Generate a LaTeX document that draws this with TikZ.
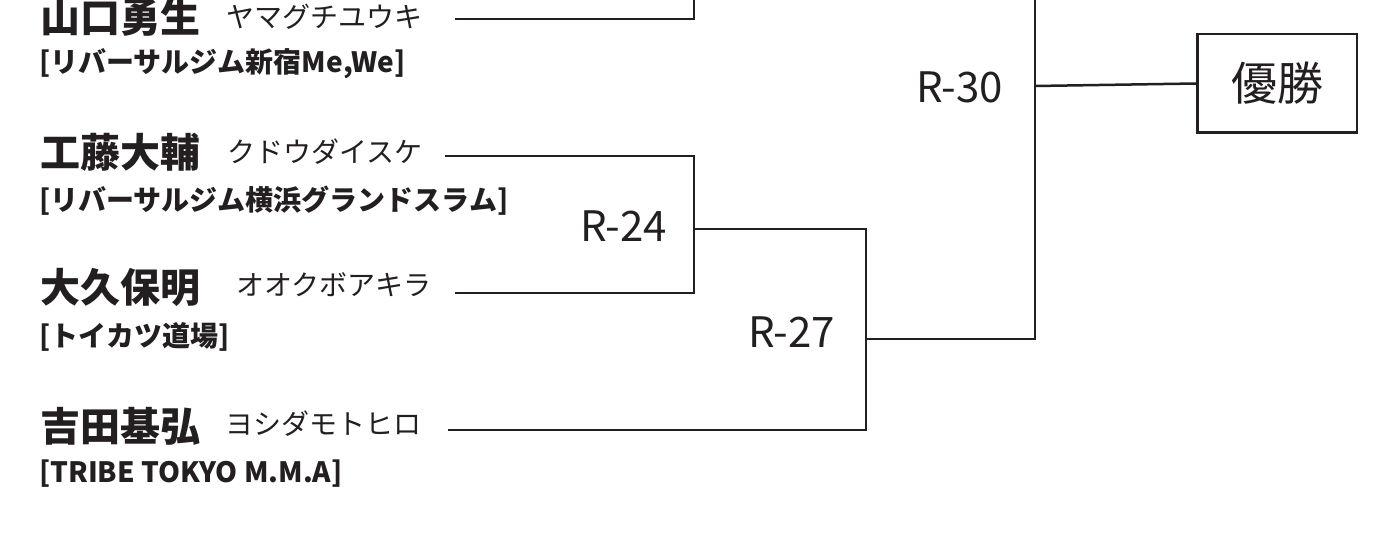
\documentclass[tikz,border=0pt]{standalone}
\usepackage{fontspec}
\setmainfont{Noto Sans CJK JP}
\definecolor{ink}{HTML}{231F20}
\begin{document}
\begin{tikzpicture}[x=1pt,y=-1pt,
  wire/.style={line width=2.5pt, draw=ink},
  pname/.style={anchor=west, inner sep=0pt, text=ink, font=\bfseries\fontsize{40}{40}\selectfont},
  yomi/.style={anchor=west, inner sep=0pt, text=ink, font=\fontsize{28}{28}\selectfont},
  club/.style={anchor=west, inner sep=0pt, text=ink, font=\bfseries\fontsize{28}{28}\selectfont},
  rnd/.style={anchor=east, inner sep=0pt, text=ink, font=\fontsize{42}{42}\selectfont},
  winbox/.style={draw=ink, line width=2.5pt, inner sep=0pt, minimum width=159.5pt, minimum height=98.5pt, text=ink, font=\fontsize{46}{46}\selectfont}]
\useasboundingbox (0,0) rectangle (1373,540);
\clip (0,0) rectangle (1373,540);
\fill[white] (0,0) rectangle (1373,540);

% competitors
\node[pname] (n1) at (40,17.5) {山口勇生};
\node[yomi]  (y1) at (226,17) {ヤマグチユウキ};
\node[club]  (c1) at (39,63.5) {[リバーサルジム新宿Me,We]};

\node[pname] (n2) at (40,152) {工藤大輔};
\node[yomi]  (y2) at (227,152) {クドウダイスケ};
\node[club]  (c2) at (39,201) {[リバーサルジム横浜グランドスラム]};

\node[pname] (n3) at (40,287) {大久保明};
\node[yomi]  (y3) at (236,285) {オオクボアキラ};
\node[club]  (c3) at (39,336.5) {[トイカツ道場]};

\node[pname] (n4) at (40,426) {吉田基弘};
\node[yomi]  (y4) at (225,424) {ヨシダモトヒロ};
\node[club]  (c4) at (39,473.5) {[TRIBE TOKYO M.M.A]};

% line starts
\coordinate (s1) at (455,19);
\coordinate (s2) at (445,156);
\coordinate (s3) at (455,293);
\coordinate (s4) at (448,430);

% junctions
\coordinate (top1) at (694,-5);
\coordinate (j24) at (694,229);
\coordinate (j27) at (866,339);
\coordinate (top30) at (1035,-5);
\coordinate (j30) at (1035,86);

% round labels
\node[rnd] (r24) at (667,226) {R-24};
\node[rnd] (r27) at (835,332.5) {R-27};
\node[rnd] (r30) at (1003,87.5) {R-30};

% winner
\node[winbox] (win) at (1277,83.5) {優勝};

% connectors
\draw[wire] (s1) -| (top1);
\draw[wire] (s2) -| (j24);
\draw[wire] (s3) -| (j24);
\draw[wire] (j24) -| (j27);
\draw[wire] (s4) -| (j27);
\draw[wire] (j27) -| (top30);
\draw[wire] (j30) -- (win.west);
\end{tikzpicture}
\end{document}
